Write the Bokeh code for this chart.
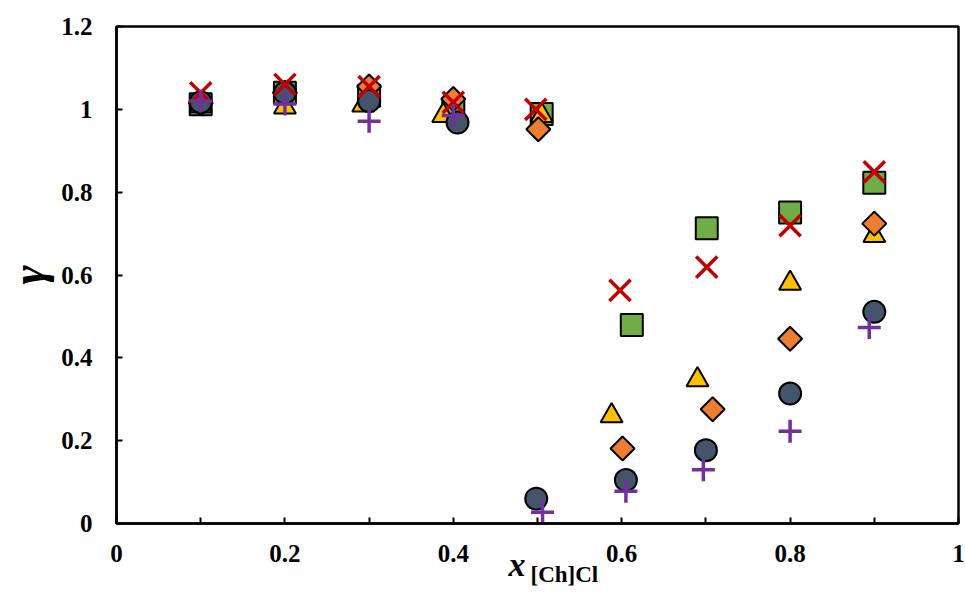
import numpy as np
from bokeh.plotting import figure
from bokeh.models import Range1d, FixedTicker, Title
from bokeh.embed import file_html
from bokeh.resources import INLINE

# ---- data ----
sq_x = [0.1, 0.2, 0.3, 0.4, 0.505, 0.612, 0.701, 0.8, 0.9]
sq_y = [1.012, 1.04, 1.033, 1.0, 0.989, 0.479, 0.713, 0.751, 0.823]

tri_x = [0.1, 0.2, 0.293, 0.388, 0.505, 0.588, 0.69, 0.8, 0.9]
tri_y = [1.008, 1.005, 1.01, 0.985, 0.985, 0.26, 0.347, 0.58, 0.695]

dia_x = [0.1, 0.2, 0.3, 0.4, 0.501, 0.601, 0.708, 0.8, 0.9]
dia_y = [1.015, 1.04, 1.055, 1.025, 0.952, 0.181, 0.276, 0.446, 0.724]

cir_x = [0.1, 0.2, 0.3, 0.405, 0.4985, 0.605, 0.7, 0.8, 0.9]
cir_y = [1.017, 1.04, 1.02, 0.968, 0.060, 0.105, 0.177, 0.314, 0.511]

xm_x = [0.1, 0.2, 0.3, 0.4, 0.498, 0.598, 0.701, 0.8, 0.9]
xm_y = [1.04, 1.06, 1.055, 1.017, 1.0, 0.563, 0.619, 0.719, 0.849]

pl_x = [0.1, 0.2, 0.3, 0.4, 0.506, 0.605, 0.697, 0.8, 0.894]
pl_y = [1.02, 1.013, 0.971, 0.985, 0.027, 0.078, 0.130, 0.223, 0.473]

x_ticks = [0, 0.1, 0.2, 0.3, 0.4, 0.5, 0.6, 0.7, 0.8, 0.9, 1.0]
x_tick_labels = {0: "0", 0.2: "0.2", 0.4: "0.4", 0.6: "0.6", 0.8: "0.8", 1.0: "1",
                 0.1: "", 0.3: "", 0.5: "", 0.7: "", 0.9: ""}
y_ticks = [0, 0.2, 0.4, 0.6, 0.8, 1.0, 1.2]
y_tick_labels = {0: "0", 0.2: "0.2", 0.4: "0.4", 0.6: "0.6", 0.8: "0.8", 1.0: "1", 1.2: "1.2"}

FONT = "Liberation Serif"

p = figure(width=965, height=599, output_backend="svg", toolbar_location=None,
           x_range=Range1d(0, 1), y_range=Range1d(0, 1.2),
           min_border_left=115, min_border_right=7, min_border_top=26, min_border_bottom=76)
p.grid.visible = False
p.outline_line_color = "black"
p.outline_line_width = 2.5
p.background_fill_color = "white"
p.border_fill_color = "white"

for ax in (p.xaxis[0], p.yaxis[0]):
    ax.axis_line_color = "black"
    ax.axis_line_width = 2.5
    ax.major_tick_in = 6
    ax.major_tick_out = 0
    ax.major_tick_line_width = 2
    ax.minor_tick_line_color = None
    ax.major_label_text_font = FONT
    ax.major_label_text_font_style = "bold"
    ax.major_label_text_font_size = "25px"
    ax.major_label_text_color = "black"

p.xaxis.ticker = FixedTicker(ticks=x_ticks)
p.xaxis.major_label_overrides = x_tick_labels
p.xaxis.major_label_standoff = 21
p.yaxis.ticker = FixedTicker(ticks=y_ticks)
p.yaxis.major_label_overrides = y_tick_labels
p.yaxis.major_label_standoff = 24

p.yaxis.axis_label = "γ"
p.yaxis.axis_label_text_font = FONT
p.yaxis.axis_label_text_font_style = "bold italic"
p.yaxis.axis_label_text_font_size = "46px"
p.yaxis.axis_label_text_color = "black"
p.yaxis.axis_label_standoff = 4

# markers, drawn in reference stacking order
p.scatter(sq_x, sq_y, marker="square", size=22, fill_color="#70AD47",
          line_color="black", line_width=2)
p.scatter(tri_x, tri_y, marker="triangle", size=22, fill_color="#FFC000",
          line_color="black", line_width=2)
p.scatter(dia_x, dia_y, marker="square", angle=np.pi / 4, size=17, fill_color="#ED7D31",
          line_color="black", line_width=2)
p.scatter(cir_x, cir_y, marker="circle", size=22, fill_color="#44546A",
          line_color="black", line_width=2)
p.scatter(xm_x, xm_y, marker="x", size=30, line_color="#C00000", line_width=3.5)
p.scatter(pl_x, pl_y, marker="cross", size=23, line_color="#7030A0", line_width=3.5)

# x-axis title with subscript, as two titles below the axis
p.add_layout(Title(text="x", align="left", offset=392, vertical_align="top", standoff=-37,
                   text_font=FONT, text_font_style="bold italic", text_font_size="34px",
                   text_color="black"), "below")
p.add_layout(Title(text="[Ch]Cl", align="left", offset=414, vertical_align="top", standoff=-9,
                   text_font=FONT, text_font_style="bold", text_font_size="23px",
                   text_color="black"), "below")

open("out.html", "w").write(file_html(p, INLINE))
